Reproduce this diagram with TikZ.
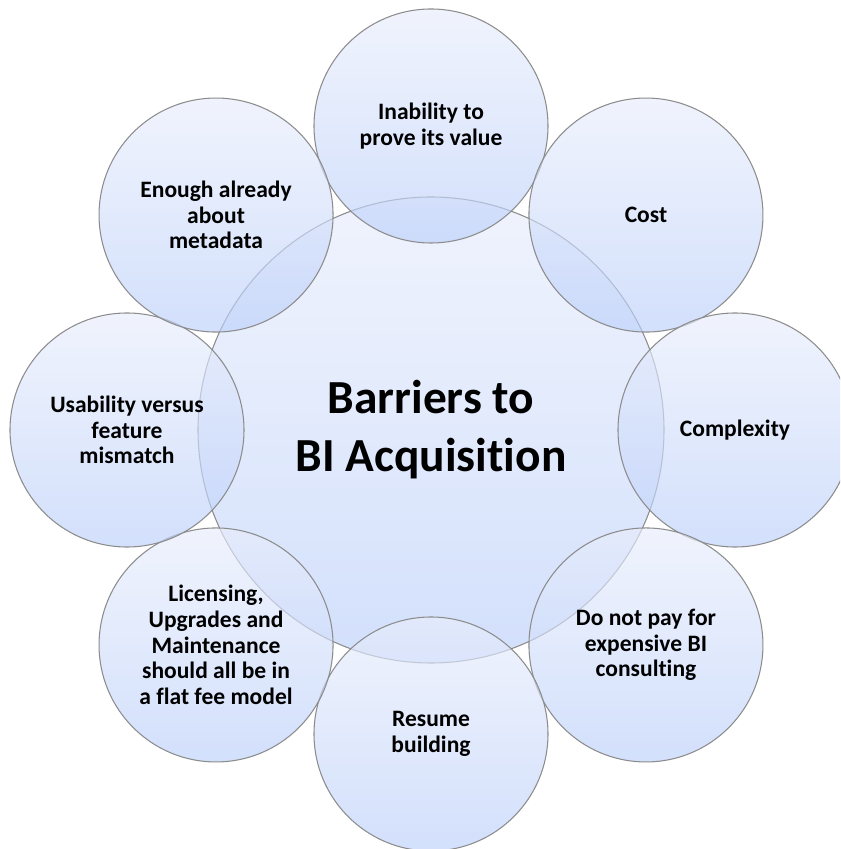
\documentclass[tikz,border=0pt]{standalone}
\usepackage{fontspec}
\setmainfont{Carlito}[Ligatures={NoCommon}]
\definecolor{bubbletop}{RGB}{232,237,252}
\definecolor{bubblebot}{RGB}{188,208,250}
\tikzset{
  bubble/.style={circle, draw=black!45, line width=0.6pt,
    top color=bubbletop, bottom color=bubblebot,
    fill opacity=0.66, text opacity=1, align=center,
    font=\bfseries, inner sep=0pt},
  hub/.style={bubble, minimum size=9.32cm,
    font=\bfseries\fontsize{27}{33}\selectfont},
  barrier/.style={bubble, minimum size=4.68cm,
    font=\bfseries\fontsize{13.4}{14.6}\selectfont}
}
\begin{document}
\begin{tikzpicture}
    \useasboundingbox (-8.62,-8.38) rectangle (8.18,8.6);
    \clip (-8.62,-8.38) rectangle (8.18,8.6);

    % centre circle
    \node[hub] (core) at (0,0) {Barriers to\\BI Acquisition};

    % ring of barriers, clockwise from the top
    \node[barrier] (value)    at (90:6.08)  {Inability to\\prove its value};
    \node[barrier] (cost)     at (45:6.08)  {Cost};
    \node[barrier] (complex)  at (0:6.08)   {Complexity};
    \node[barrier] (consult)  at (-45:6.08) {Do not pay for\\expensive BI\\consulting};
    \node[barrier] (resume)   at (-90:6.08) {Resume\\building};
    \node[barrier] (licence)  at (-135:6.08) {Licensing,\\Upgrades and\\Maintenance\\should all be in\\a flat fee model};
    \node[barrier] (usable)   at (180:6.08) {Usability versus\\feature\\mismatch};
    \node[barrier] (metadata) at (135:6.08) {Enough already\\about\\metadata};

\end{tikzpicture}
\end{document}
